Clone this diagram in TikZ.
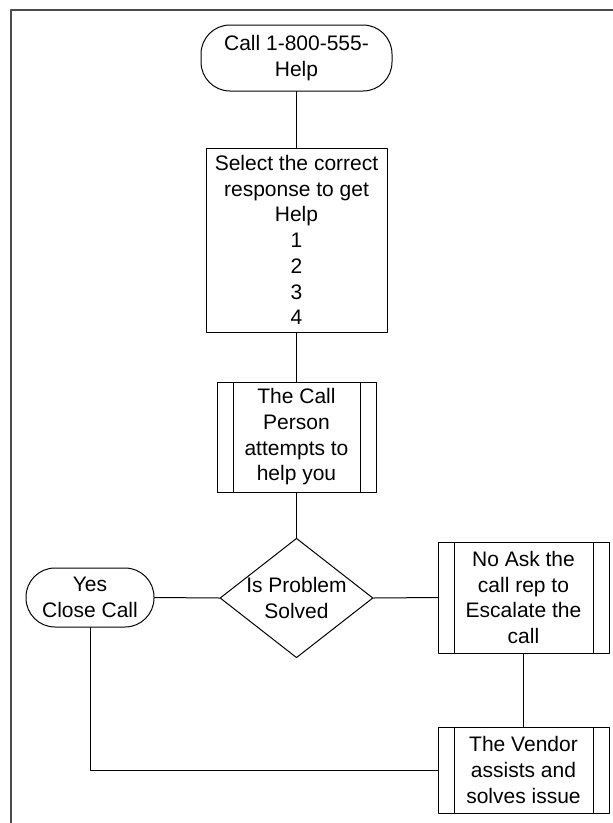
\documentclass[tikz,border=0pt]{standalone}
\usepackage{fontspec}
\setmainfont{Liberation Sans}
\usetikzlibrary{shapes.geometric}
\tikzset{
	base/.style={draw,line width=1pt,align=center,inner sep=0pt,font=\fontsize{21}{25.7}\selectfont},
	terminal/.style={base,rectangle,rounded corners=29pt},
	procbox/.style={base,rectangle},
	predef/.style={base,rectangle,path picture={
		\draw[line width=1pt] ([xshift=16pt]path picture bounding box.north west)--([xshift=16pt]path picture bounding box.south west);
		\draw[line width=1pt] ([xshift=-16pt]path picture bounding box.north east)--([xshift=-16pt]path picture bounding box.south east);}},
	decision/.style={base,diamond,aspect=1.28},
	link/.style={line width=1pt}
}
\begin{document}
\begin{tikzpicture}[x=1pt,y=-1pt,line join = round, line cap = round]
			\useasboundingbox (0,0) rectangle (613,823);
			\draw[line width=2pt,color=black!70] (613,10)--(11,10)--(11,823);
			\node[terminal,minimum width=191pt,minimum height=66pt] (call) at (296.5,58) {Call 1-800-555-\\Help};
			\node[procbox,minimum width=181pt,minimum height=184pt] (select) at (296.5,240) {Select the correct\\response to get\\Help\\1\\2\\3\\4};
			\node[predef,minimum width=159pt,minimum height=110pt] (person) at (296.5,437) {The Call\\Person\\attempts to\\help you};
			\node[decision,minimum width=151pt,minimum height=118pt] (solved) at (296.5,598) {Is Problem\\Solved};
			\node[terminal,minimum width=128pt,minimum height=59pt] (yes) at (90,597.5) {Yes\\Close Call};
			\node[predef,minimum width=171pt,minimum height=111pt] (escalate) at (523.5,597.5) {No Ask the\\call rep to\\Escalate the\\call};
			\node[predef,minimum width=171pt,minimum height=86pt] (vendor) at (523.5,770) {The Vendor\\assists and\\solves issue};
			\draw[link] (call)--(select);
			\draw[link] (select)--(person);
			\draw[link] (person)--(solved);
			\draw[link] (solved.west)--(yes.east);
			\draw[link] (solved.east)--(escalate.west);
			\draw[link] (escalate)--(vendor);
			\draw[link] (yes.south)|-(vendor.west);
		\end{tikzpicture}
\end{document}
